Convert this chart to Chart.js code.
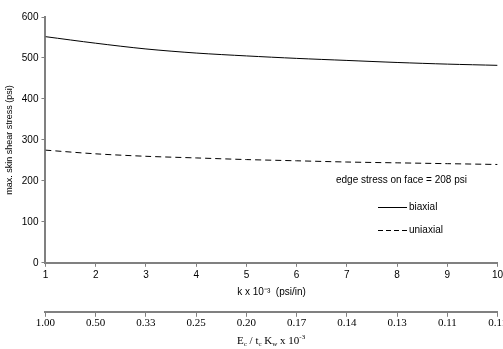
<!DOCTYPE html>
<html>
<head>
<meta charset="utf-8">
<script src="https://cdn.jsdelivr.net/npm/chart.js@4"></script>
<style>
  html, body { margin: 0; padding: 0; background: #fff; overflow: hidden; }
  /* slightly wider than the window so the last lower label is cut like in the original */
  #wrap { width: 507px; height: 349px; }
</style>
</head>
<body>
<div id="wrap"><canvas id="chart"></canvas></div>
<script>
// k x 10^-3 (psi/in)
const kValues = [1, 2, 3, 4, 5, 6, 7, 8, 9, 10];
const biaxial = [552, 536, 522, 512, 505, 499, 494, 489, 485, 482];
const uniaxial = [275, 266, 260, 256, 252, 249, 246, 244, 242, 240];
// labels of the second (lower) axis, Ec / tc Kw x 10^-3
const ratioLabels = ['1.00', '0.50', '0.33', '0.25', '0.20', '0.17', '0.14', '0.13', '0.11', '0.11'];

const axisGrey = '#808080';
const sans = 'Liberation Sans, Arial, sans-serif';
const serif = 'Liberation Serif, Times New Roman, serif';

// legend box, note and lower axis title drawn by hand
const notesPlugin = {
  id: 'notes',
  afterDraw(chart) {
    const ctx = chart.ctx;
    ctx.save();
    ctx.fillStyle = '#000';
    ctx.textBaseline = 'middle';
    ctx.font = '10px ' + sans;
    ctx.fillText('edge stress on face = 208 psi', 336, 180);

    ctx.strokeStyle = '#000';
    ctx.lineWidth = 1;
    ctx.beginPath();
    ctx.moveTo(378, 207.5); ctx.lineTo(407, 207.5);
    ctx.stroke();
    ctx.setLineDash([5, 3]);
    ctx.beginPath();
    ctx.moveTo(378, 230.5); ctx.lineTo(407, 230.5);
    ctx.stroke();
    ctx.setLineDash([]);
    ctx.fillText('biaxial', 409, 207);
    ctx.fillText('uniaxial', 409, 230);

    // E_c / t_c K_w x 10^-3
    const y = 341;
    let x = 237;
    const part = (txt, size, dy) => {
      ctx.font = size + 'px ' + serif;
      ctx.fillText(txt, x, y + dy);
      x += ctx.measureText(txt).width;
    };
    part('E', 11, 0); part('c', 7, 3); part(' / t', 11, 0); part('c', 7, 3);
    part(' K', 11, 0); part('w', 7, 3); part(' x 10', 11, 0); part('-3', 7, -4);
    ctx.restore();
  }
};

new Chart(document.getElementById('chart'), {
  type: 'line',
  data: {
    labels: kValues,
    datasets: [
      {
        label: 'biaxial',
        data: kValues.map((k, i) => ({ x: k, y: biaxial[i] })),
        borderColor: '#000',
        borderWidth: 1,
        pointRadius: 0,
        tension: 0.3,
        xAxisID: 'x'
      },
      {
        label: 'uniaxial',
        data: kValues.map((k, i) => ({ x: k, y: uniaxial[i] })),
        borderColor: '#000',
        borderWidth: 1,
        borderDash: [6, 4],
        pointRadius: 0,
        tension: 0.3,
        xAxisID: 'x'
      }
    ]
  },
  options: {
    responsive: true,
    maintainAspectRatio: false,
    animation: false,
    layout: { padding: { top: 17, right: 0, left: 0, bottom: 19 } },
    plugins: { legend: { display: false }, tooltip: { enabled: false } },
    scales: {
      x: {
        type: 'linear',
        position: 'bottom',
        min: 1, max: 10,
        ticks: { stepSize: 1, color: '#000', font: { family: sans, size: 10 }, padding: 2, maxRotation: 0 },
        grid: { drawOnChartArea: false, color: axisGrey, tickLength: 4 },
        border: { color: axisGrey, width: 2 },
        title: { display: true, text: 'k x 10⁻³  (psi/in)', color: '#000', font: { family: sans, size: 10 }, padding: { top: 3, bottom: 14 } }
      },
      x2: {
        type: 'linear',
        position: 'bottom',
        min: 1, max: 10,
        ticks: {
          stepSize: 1, color: '#000', font: { family: serif, size: 11 }, padding: 0, maxRotation: 0,
          callback: v => ratioLabels[v - 1]
        },
        grid: { drawOnChartArea: false, color: axisGrey, tickLength: 5 },
        border: { color: axisGrey, width: 2 }
      },
      y: {
        min: 0, max: 600,
        ticks: { stepSize: 100, color: '#000', font: { family: sans, size: 10 }, padding: 3 },
        grid: { drawOnChartArea: false, color: axisGrey, tickLength: 4 },
        border: { color: axisGrey, width: 2 },
        title: { display: true, text: 'max. skin shear stress (psi)', color: '#000', font: { family: sans, size: 9 }, padding: { bottom: 4 } }
      }
    }
  },
  plugins: [notesPlugin]
});
</script>
</body>
</html>
